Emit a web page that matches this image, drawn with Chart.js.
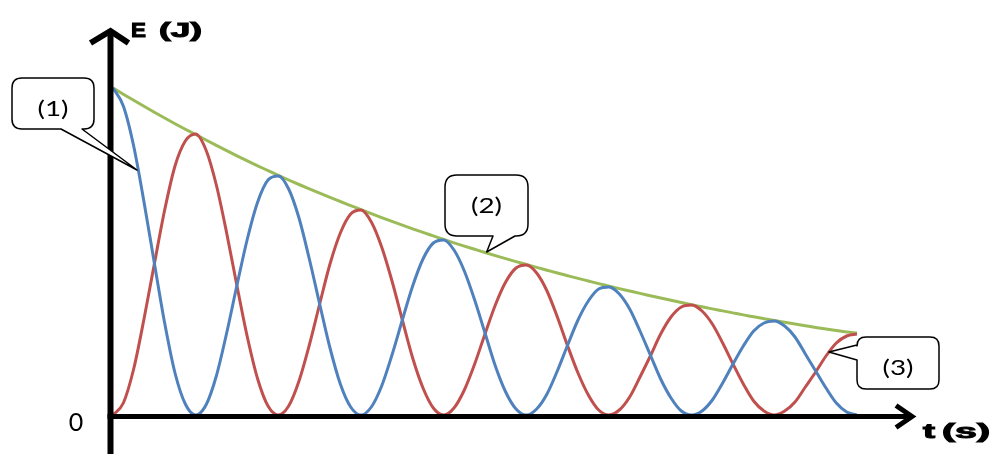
<!DOCTYPE html>
<html>
<head>
<meta charset="utf-8">
<script src="https://cdn.jsdelivr.net/npm/chart.js@4.4.1/dist/chart.umd.min.js"></script>
<style>
  html, body { margin: 0; padding: 0; background: #fff; }
  #wrap { width: 991px; height: 454px; }
</style>
</head>
<body>
<div id="wrap"><canvas id="energyChart" width="991" height="454"></canvas></div>
<script>
const timeValues = [
  0, 0.125, 0.25, 0.375, 0.5, 0.625, 0.75, 0.875,
  1, 1.125, 1.25, 1.375, 1.5, 1.625, 1.75, 1.875,
  2, 2.125, 2.25, 2.375, 2.5, 2.625, 2.75, 2.875,
  3, 3.125, 3.25, 3.375, 3.5, 3.625, 3.75, 3.875,
  4, 4.125, 4.25, 4.375, 4.5, 4.625, 4.75, 4.875,
  5, 5.125, 5.25, 5.375, 5.5, 5.625, 5.75, 5.875,
  6, 6.125, 6.25, 6.375, 6.5, 6.625, 6.75, 6.875,
  7, 7.125, 7.25, 7.375, 7.5, 7.625, 7.75, 7.875,
  8, 8.125, 8.25, 8.375, 8.5, 8.625, 8.75, 8.875,
  9];

// (2) green envelope
const mechanicalEnergy = [
  327, 320.8, 314.7, 308.7, 302.8, 297, 291.3, 285.8,
  280.5, 275, 269.6, 264.3, 259.1, 254.1, 249.2, 244.4,
  239.6, 235, 230.5, 226.1, 221.8, 217.6, 213.5, 209.4,
  205.3, 201.3, 197.4, 193.6, 189.9, 186.2, 182.6, 179.1,
  175.6, 172.2, 168.9, 165.7, 162.5, 159.4, 156.4, 153.4,
  150.5, 147.6, 144.8, 142, 139.3, 136.6, 134, 131.4,
  128.9, 126.4, 124, 121.6, 119.3, 117, 114.7, 112.5,
  110.3, 108.2, 106.1, 104.1, 102.1, 100.1, 98.2, 96.3,
  94.4, 92.7, 91, 89.3, 87.6, 86, 84.5, 83.1,
  82];

// (1) blue
const potentialEnergy = [
  327, 309, 269, 213, 152, 92, 42, 11,
  0, 10, 39, 82, 130, 176, 213, 235,
  239, 226, 197, 156, 111, 67, 31, 8,
  0, 8, 29, 60, 95, 129, 156, 172,
  175, 165, 144, 115, 82, 49, 23, 6,
  0, 6, 21, 44, 70, 95, 114, 126,
  128, 121, 106, 84, 60, 36, 17, 4,
  0, 4, 15, 32, 51, 69, 84, 92,
  94, 89, 78, 61, 44, 27, 12, 3,
  0];

// (3) red
const kineticEnergy = [
  0, 12, 46, 96, 151, 205, 249, 274,
  281, 265, 230, 182, 129, 78, 36, 9,
  0, 9, 34, 70, 111, 151, 182, 201,
  205, 193, 168, 134, 95, 57, 27, 7,
  0, 7, 25, 51, 81, 110, 133, 147,
  150, 142, 124, 98, 69, 42, 20, 5,
  0, 5, 18, 38, 59, 81, 98, 108,
  110, 104, 91, 72, 51, 31, 14, 4,
  0, 4, 13, 28, 43, 59, 72, 79,
  81];

const toPoints = (values) => values.map((v, i) => ({ x: timeValues[i], y: v }));

// callout boxes: box in pixels, tip in data units (t, E)
const callouts = [
  { text: '(1)', box: [12, 78, 82, 51], r: 10, side: 'bottom', base: [61, 82], tip: [0.29, 245], textY: 109 },
  { text: '(2)', box: [445, 175, 83, 61], r: 12, side: 'bottom', base: [493, 515], tip: [4.52, 163], textY: 206 },
  { text: '(3)', box: [857, 337, 82, 52], r: 9, side: 'left', base: [345, 360], tip: [8.66, 63], textY: 368 }
];

const calloutPath = (ctx, c, tipX, tipY) => {
  const [x, y, w, h] = c.box;
  const r = c.r;
  ctx.beginPath();
  ctx.moveTo(x + r, y);
  ctx.lineTo(x + w - r, y);
  ctx.quadraticCurveTo(x + w, y, x + w, y + r);
  ctx.lineTo(x + w, y + h - r);
  ctx.quadraticCurveTo(x + w, y + h, x + w - r, y + h);
  if (c.side === 'bottom') {
    ctx.lineTo(c.base[1], y + h);
    ctx.lineTo(tipX, tipY);
    ctx.lineTo(c.base[0], y + h);
  }
  ctx.lineTo(x + r, y + h);
  ctx.quadraticCurveTo(x, y + h, x, y + h - r);
  if (c.side === 'left') {
    ctx.lineTo(x, c.base[1]);
    ctx.lineTo(tipX, tipY);
    ctx.lineTo(x, c.base[0]);
  }
  ctx.lineTo(x, y + r);
  ctx.quadraticCurveTo(x, y, x + r, y);
  ctx.closePath();
};

// draw text stretched horizontally to a given width
const fitText = (ctx, text, x, y, width, heavy) => {
  const s = width / ctx.measureText(text).width;
  ctx.save();
  ctx.translate(x, y);
  ctx.scale(s, 1);
  ctx.fillText(text, 0, 0);
  if (heavy) {
    ctx.lineWidth = 1;
    ctx.strokeText(text, 0, 0);
  }
  ctx.restore();
};

const decorations = {
  id: 'decorations',
  afterDatasetsDraw(chart) {
    const { ctx, chartArea, scales } = chart;
    const axisX = chartArea.left - 2.5;
    const axisY = chartArea.bottom + 1.5;
    ctx.save();
    ctx.strokeStyle = '#000';
    ctx.lineCap = 'butt';
    ctx.lineJoin = 'miter';

    // vertical axis with arrow
    ctx.lineWidth = 6;
    ctx.beginPath();
    ctx.moveTo(axisX, chart.height);
    ctx.lineTo(axisX, 31);
    ctx.stroke();
    ctx.beginPath();
    ctx.moveTo(axisX - 20, 43);
    ctx.lineTo(axisX, 31);
    ctx.lineTo(axisX + 18, 43);
    ctx.stroke();

    // horizontal axis with arrow
    ctx.lineWidth = 5;
    ctx.beginPath();
    ctx.moveTo(axisX - 3, axisY);
    ctx.lineTo(912, axisY);
    ctx.stroke();
    ctx.beginPath();
    ctx.moveTo(896, axisY - 11);
    ctx.lineTo(912, axisY);
    ctx.lineTo(896, axisY + 11);
    ctx.stroke();

    // axis labels
    ctx.fillStyle = '#000';
    ctx.textBaseline = 'alphabetic';
    ctx.textAlign = 'left';
    ctx.font = 'bold 20px "Liberation Sans", Arial, sans-serif';
    fitText(ctx, 'E', 131, 37, 15, true);
    fitText(ctx, '(J)', 159, 37, 43, true);
    fitText(ctx, 't', 923, 438, 12, true);
    fitText(ctx, '(s)', 942, 438, 48, true);
    ctx.textAlign = 'center';
    ctx.font = '25px Lato, "Open Sans", sans-serif';
    ctx.fillText('0', 76, 431);

    // callouts
    ctx.lineWidth = 1.5;
    ctx.lineJoin = 'round';
    callouts.forEach((c) => {
      const tipX = scales.x.getPixelForValue(c.tip[0]);
      const tipY = scales.y.getPixelForValue(c.tip[1]);
      calloutPath(ctx, c, tipX, tipY);
      ctx.fillStyle = '#fff';
      ctx.fill();
      ctx.stroke();
      ctx.fillStyle = '#000';
      ctx.font = '21px Lato, "Open Sans", sans-serif';
      ctx.textAlign = 'center';
      ctx.textBaseline = 'middle';
      fitText(ctx, c.text, c.box[0] + c.box[2] / 2, c.textY, 31, false);
    });
    ctx.restore();
  }
};

const lineSet = (values, color) => ({
  data: toPoints(values),
  borderColor: color,
  borderWidth: 3,
  pointRadius: 0,
  fill: false,
  cubicInterpolationMode: 'monotone'
});

new Chart(document.getElementById('energyChart'), {
  type: 'line',
  data: {
    datasets: [
      lineSet(potentialEnergy, '#4f81bd'),
      lineSet(kineticEnergy, '#c0504d'),
      lineSet(mechanicalEnergy, '#9bbb59')
    ]
  },
  options: {
    responsive: false,
    animation: false,
    layout: { padding: { left: 113, right: 134, top: 30, bottom: 39 } },
    plugins: { legend: { display: false }, tooltip: { enabled: false } },
    scales: {
      x: { type: 'linear', min: 0, max: 9, display: false },
      y: { min: 0, max: 385, display: false }
    }
  },
  plugins: [decorations]
});
</script>
</body>
</html>
